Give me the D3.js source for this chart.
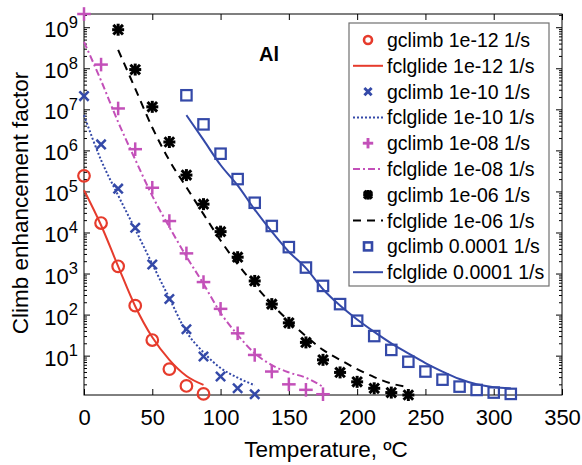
<!DOCTYPE html>
<html>
<head>
<meta charset="utf-8">
<script src="https://cdn.jsdelivr.net/npm/d3@7"></script>
<style>
  body { margin: 0; background: #fff; }
  svg { display: block; font-family: "Liberation Sans", Arial, sans-serif; }
</style>
</head>
<body>
<svg id="chart" width="582" height="465"></svg>
<script>
// temperatures (ºC) for each strain rate series
const t12 = [0, 12.5, 25, 37.5, 50, 62.5, 75, 87.5];
const t10 = [0, 12.5, 25, 37.5, 50, 62.5, 75, 87.5, 100, 112.5, 125];
const t08 = [0, 12.5, 25, 37.5, 50, 62.5, 75, 87.5, 100, 112.5, 125, 137.5, 150, 162.5, 175];
const t06 = [25, 37.5, 50, 62.5, 75, 87.5, 100, 112.5, 125, 137.5, 150, 162.5, 175, 187.5, 200, 212.5, 225, 237.5];
const t04 = [75, 87.5, 100, 112.5, 125, 137.5, 150, 162.5, 175, 187.5, 200, 212.5, 225, 237.5, 250, 262.5, 275, 287.5, 300, 312.5];

// climb enhancement factor: gclimb (markers) and fclglide (lines)
const gclimb12 = [2.4e5, 1.7e4, 1.5e3, 165, 24, 4.7, 1.83, 1.17];
const fclglide12 = [1.07e5, 1.5e4, 1.5e3, 160, 28, 7.9, 3.2, 1.94];
const gclimb10 = [2.1e7, 1.4e6, 1.17e5, 1.3e4, 1.67e3, 240, 44, 9.5, 3.1, 1.6, 1.15];
const fclglide10 = [7.2e6, 5.8e5, 8e4, 1.2e4, 1.7e3, 250, 38, 12, 5, 2.9, 1.9];
const gclimb08 = [2.1e9, 1.23e8, 1.05e7, 1.07e6, 1.23e5, 1.9e4, 3.1e3, 620, 138, 35, 10.4, 4.1, 2.0, 1.47, 1.15];
const fclglide08 = [4.4e8, 5e7, 4.9e6, 6e5, 7.8e4, 1.35e4, 2.6e3, 560, 110, 32, 11.4, 5.9, 3.9, 2.9, 1.74];
const gclimb06 = [8.7e8, 9.3e7, 1.15e7, 1.6e6, 2.5e5, 4.9e4, 1.05e4, 2.5e3, 660, 180, 63, 21, 7.9, 3.9, 2.3, 1.6, 1.26, 1.1];
const fclglide06 = [2.8e8, 3.2e7, 3.6e6, 5.7e5, 1.26e5, 2.8e4, 6.4e3, 1.7e3, 525, 180, 70, 30, 13.8, 7.9, 4.7, 3.0, 2.1, 1.7];
const gclimb04 = [2.2e7, 4.3e6, 8.3e5, 2.0e5, 5.3e4, 1.44e4, 4.4e3, 1.4e3, 500, 180, 71, 30, 13.8, 7.1, 4.1, 2.6, 1.76, 1.46, 1.26, 1.17];
const fclglide04 = [7.2e6, 1.8e6, 4.4e5, 1.4e5, 3.6e4, 1.05e4, 3.4e3, 1.35e3, 415, 166, 76, 38, 20, 11.4, 6.6, 4.1, 2.7, 2.0, 1.7, 1.6];

const xTicks = [0, 50, 100, 150, 200, 250, 300, 350];
const yDecades = [1, 2, 3, 4, 5, 6, 7, 8, 9];
const legendLabels = [
  'gclimb 1e-12 1/s', 'fclglide 1e-12 1/s',
  'gclimb 1e-10 1/s', 'fclglide 1e-10 1/s',
  'gclimb 1e-08 1/s', 'fclglide 1e-08 1/s',
  'gclimb 1e-06 1/s', 'fclglide 1e-06 1/s',
  'gclimb 0.0001 1/s', 'fclglide 0.0001 1/s'
];

const red = '#e63b2c', blue = '#3449a8', magenta = '#c350b9', black = '#000';

const series = [
  { x: t12, g: gclimb12, f: fclglide12, color: red, marker: 'circle', dash: null },
  { x: t10, g: gclimb10, f: fclglide10, color: blue, marker: 'x', dash: '2,2' },
  { x: t08, g: gclimb08, f: fclglide08, color: magenta, marker: 'plus', dash: '7,3,2,3' },
  { x: t06, g: gclimb06, f: fclglide06, color: black, marker: 'star', dash: '8,6' },
  { x: t04, g: gclimb04, f: fclglide04, color: blue, marker: 'square', dash: null }
];

const svg = d3.select('#chart');
const mLeft = 84, mRight = 562, mTop = 14, mBottom = 395;

const allVals = series.flatMap(s => s.g.concat(s.f));
const x = d3.scaleLinear().domain([0, 350]).range([mLeft, mRight]);
const y = d3.scaleLog().domain(d3.extent(allVals)).range([mBottom, mTop]);

// minor log ticks
const minors = [];
[0].concat(yDecades).forEach(e => {
  for (let m = 2; m <= 9; m++) {
    const v = m * Math.pow(10, e);
    if (v >= y.domain()[0] && v <= y.domain()[1]) minors.push(v);
  }
});

const axisStyle = g => {
  g.select('.domain').remove();
  g.selectAll('.tick line').attr('stroke', '#000').attr('stroke-width', 1);
};

// bottom / top
svg.append('g')
  .attr('transform', `translate(0,${mBottom})`)
  .call(d3.axisBottom(x).tickValues(xTicks).tickSize(-6).tickSizeOuter(0).tickPadding(14))
  .call(axisStyle)
  .call(g => g.selectAll('.tick text').attr('font-size', 22).attr('fill', '#000')
    .attr('font-family', '"Liberation Sans", Arial, sans-serif'));

svg.append('g')
  .attr('transform', `translate(0,${mTop})`)
  .call(d3.axisTop(x).tickValues(xTicks).tickSize(-6).tickSizeOuter(0).tickFormat(''))
  .call(axisStyle);

// left
const yAxis = svg.append('g')
  .attr('transform', `translate(${mLeft},0)`)
  .call(d3.axisLeft(y).tickValues(yDecades.map(e => Math.pow(10, e))).tickSize(-6).tickSizeOuter(0).tickPadding(6))
  .call(axisStyle);

yAxis.selectAll('.tick text').each(function(d) {
  const t = d3.select(this).text(null)
    .attr('font-size', 22).attr('fill', '#000').attr('dy', '0.43em')
    .attr('font-family', '"Liberation Sans", Arial, sans-serif');
  t.append('tspan').text('10');
  t.append('tspan').attr('dy', -9.5).attr('font-size', 16.5).text(Math.round(Math.log10(d)));
});

svg.append('g')
  .attr('transform', `translate(${mLeft},0)`)
  .call(d3.axisLeft(y).tickValues(minors).tickSize(-3).tickSizeOuter(0).tickFormat(''))
  .call(axisStyle);

// right
svg.append('g')
  .attr('transform', `translate(${mRight},0)`)
  .call(d3.axisRight(y).tickValues(yDecades.map(e => Math.pow(10, e))).tickSize(-6).tickSizeOuter(0).tickFormat(''))
  .call(axisStyle);
svg.append('g')
  .attr('transform', `translate(${mRight},0)`)
  .call(d3.axisRight(y).tickValues(minors).tickSize(-3).tickSizeOuter(0).tickFormat(''))
  .call(axisStyle);

// box
svg.append('rect')
  .attr('x', mLeft).attr('y', mTop)
  .attr('width', mRight - mLeft).attr('height', mBottom - mTop)
  .attr('fill', 'none').attr('stroke', '#000').attr('stroke-width', 1);

// axis labels
svg.append('text')
  .attr('x', (mLeft + mRight) / 2 + 3).attr('y', 457)
  .attr('text-anchor', 'middle').attr('font-size', 22.5)
  .text('Temperature, ºC');

svg.append('text')
  .attr('transform', 'translate(28,203) rotate(-90)')
  .attr('text-anchor', 'middle').attr('font-size', 22.5)
  .text('Climb enhancement factor');

svg.append('text')
  .attr('x', 259).attr('y', 61)
  .attr('font-size', 20).attr('font-weight', 'bold')
  .text('Al');

// marker drawing
function drawMarker(g, type, cx, cy, s, color, sw) {
  const apply = sel => sel.attr('stroke', color).attr('stroke-width', sw).attr('fill', 'none');
  if (type === 'circle') {
    apply(g.append('circle').attr('cx', cx).attr('cy', cy).attr('r', s));
  } else if (type === 'square') {
    apply(g.append('rect').attr('x', cx - s).attr('y', cy - s).attr('width', 2 * s).attr('height', 2 * s));
  } else {
    const segs = [];
    const d = s * 0.8;
    if (type === 'x' || type === 'star') segs.push([-d, -d, d, d], [-d, d, d, -d]);
    if (type === 'plus' || type === 'star') segs.push([-s, 0, s, 0], [0, -s, 0, s]);
    segs.forEach(p => {
      apply(g.append('line')
        .attr('x1', cx + p[0]).attr('y1', cy + p[1])
        .attr('x2', cx + p[2]).attr('y2', cy + p[3]))
        .attr('stroke-width', type === 'star' ? sw + 0.8 : sw + 0.3);
    });
  }
}

const markerSize = { circle: 5.8, x: 5.8, plus: 6.8, star: 6, square: 5.2 };
const legendMarkerSize = { circle: 4, x: 4.5, plus: 5.2, star: 4.8, square: 4 };

const line = d3.line()
  .x(d => x(d[0]))
  .y(d => y(d[1]))
  .curve(d3.curveMonotoneX);

const plot = svg.append('g');
series.forEach(s => {
  const g = plot.append('g');
  s.x.forEach((t, i) => drawMarker(g, s.marker, x(t), y(s.g[i]), markerSize[s.marker], s.color, 2.2));
  plot.append('path')
    .datum(s.x.map((t, i) => [t, s.f[i]]))
    .attr('d', line)
    .attr('fill', 'none')
    .attr('stroke', s.color)
    .attr('stroke-width', 2)
    .attr('stroke-dasharray', s.dash);
});

// legend
const lg = svg.append('g');
lg.append('rect')
  .attr('x', 349).attr('y', 23).attr('width', 200).attr('height', 263)
  .attr('fill', '#fff').attr('stroke', '#707070').attr('stroke-width', 1.2);

legendLabels.forEach((label, i) => {
  const s = series[Math.floor(i / 2)];
  const cy = 40 + i * 25.8;
  if (i % 2 === 0) {
    drawMarker(lg, s.marker, 368, cy, legendMarkerSize[s.marker], s.color, 2.6);
  } else {
    lg.append('line')
      .attr('x1', 353).attr('x2', 383).attr('y1', cy).attr('y2', cy)
      .attr('stroke', s.color).attr('stroke-width', 2)
      .attr('stroke-dasharray', s.dash);
  }
  lg.append('text')
    .attr('x', 387).attr('y', cy + 7)
    .attr('font-size', 19.5)
    .text(label);
});
</script>
</body>
</html>
